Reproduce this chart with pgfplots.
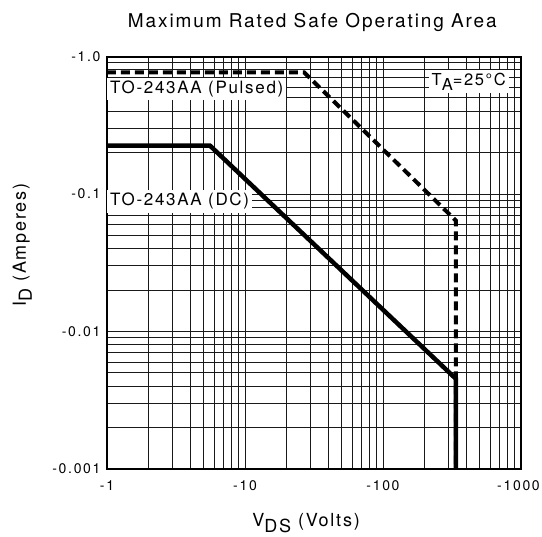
\documentclass[border=0pt]{standalone}
\usepackage{fontspec}
\setmainfont[LetterSpace=10]{TeX Gyre Heros}
\newfontfamily\tickfont[LetterSpace=12]{TeX Gyre Heros}
\usepackage{pgfplots}
\pgfplotsset{compat=1.18}
\newcommand{\lsub}[1]{\raisebox{-0.33em}{#1}}
\newcommand{\tk}[1]{{\tickfont\fontsize{14}{16}\selectfont #1}}
\begin{document}
\begin{tikzpicture}
\useasboundingbox (-107pt,-68pt) rectangle (435pt,469pt);
\begin{axis}[
  at={(0pt,0pt)}, anchor=south west,
  scale only axis, width=414pt, height=412.5pt,
  clip mode=individual,
  xmode=log, ymode=log,
  xmin=1, xmax=1000, ymin=0.001, ymax=1,
  xtick={1,10,100,1000}, xticklabels={\tk{-1},\tk{-10},\tk{-100},\tk{\hspace{-5pt}-1000}},
  ytick={0.001,0.01,0.1,1}, yticklabels={\tk{-0.001},\tk{-0.01},\tk{-0.1},\tk{-1.0}},
  /pgf/number format/assume math mode=true,
  xticklabel style={yshift=-8pt},
  yticklabel style={xshift=-3pt},
  major tick length=0pt, minor tick length=0pt,
  grid=both,
  major grid style={black!90, line width=0.9pt},
  minor grid style={black!90, line width=0.9pt},
  axis line style={line width=2pt},
]
\addplot[black, line width=4.5pt, line join=miter] coordinates {
  (1,0.2245) (5.58,0.2245) (338,0.00452) (338,0.0009)
};
\addplot[black, line width=4pt, dash pattern=on 9pt off 5pt] coordinates {
  (1,0.767) (26.8,0.767) (338,0.064) (338,0.0009)
};
\node[fill=white, anchor=base west, inner sep=3pt, font=\fontsize{17}{19}\selectfont] at (axis cs:1,0.540) {TO-243AA (Pulsed)};
\node[fill=white, anchor=base west, inner sep=3pt, font=\fontsize{17}{19}\selectfont] at (axis cs:1,0.0818) {TO-243AA (DC)};
\node[fill=white, anchor=base east, inner sep=3pt, font=\fontsize{16.5}{18}\selectfont] at (axis cs:820,0.62) {T\lsub{A}=25°C};
\node[anchor=base, font=\fontsize{19}{21}\selectfont] at (axis description cs:0.496,1.0691) {Maximum Rated Safe Operating Area};
\node[anchor=base, font=\fontsize{18}{20}\selectfont] at (axis description cs:0.481,-0.139) {V\lsub{DS} (Volts)};
\node[anchor=base, rotate=90, font=\fontsize{18}{20}\selectfont] at (axis description cs:-0.1957,0.543) {I\lsub{D} (Amperes)};
\end{axis}
\end{tikzpicture}
\end{document}
